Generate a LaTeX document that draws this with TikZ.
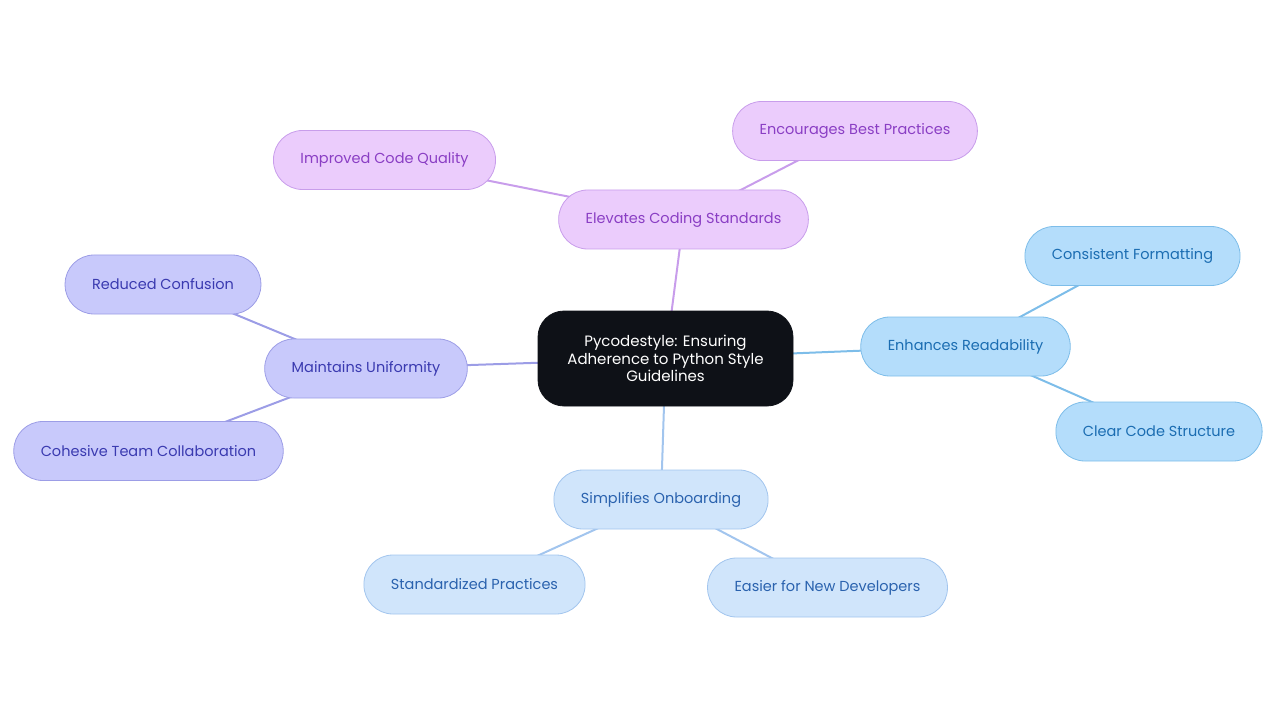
\documentclass[tikz,border=0pt]{standalone}
\usepackage{fontspec}
\setmainfont{Poppins}
\usepackage{tikz}
\usetikzlibrary{positioning, backgrounds}
\usepackage{xcolor}

\definecolor{rootfill}{HTML}{0E1117}
\definecolor{purfill}{HTML}{EBCCFC}
\definecolor{purline}{HTML}{C89DEB}
\definecolor{purtext}{HTML}{8A3EC4}
\definecolor{indfill}{HTML}{C8C9FB}
\definecolor{indline}{HTML}{9C9DE6}
\definecolor{indtext}{HTML}{3A3AB0}
\definecolor{skyfill}{HTML}{B4DDFB}
\definecolor{skyline}{HTML}{7DBDE9}
\definecolor{skytext}{HTML}{1B6DB2}
\definecolor{palefill}{HTML}{D0E5FB}
\definecolor{paleline}{HTML}{A2C5EE}
\definecolor{paletext}{HTML}{2A62AE}

\begin{document}
\begin{tikzpicture}[
    x=1pt, y=-1pt,
    topic/.style={rectangle, draw, rounded corners=29pt, minimum height=59pt,
                  inner xsep=27pt, align=center, font=\fontsize{14.5}{17}\selectfont, line width=0.8pt},
    root/.style={topic, fill=rootfill, draw=rootfill, text=white, rounded corners=26pt,
                 minimum width=255pt, minimum height=95pt, inner xsep=10pt,
                 font=\fontsize{15}{17.5}\selectfont},
    purple/.style={topic, fill=purfill, draw=purline, text=purtext},
    indigo/.style={topic, fill=indfill, draw=indline, text=indtext},
    sky/.style={topic, fill=skyfill, draw=skyline, text=skytext},
    pale/.style={topic, fill=palefill, draw=paleline, text=paletext},
    link/.style={line width=2pt}
]
\useasboundingbox (0,0) rectangle (1280,722);

\node[root] (core) at (665.5,358.5) {Pycodestyle: Ensuring\\Adherence to Python Style\\Guidelines};

\node[purple] (elevate) at (683.5,219.5) {Elevates Coding Standards};
\node[purple] (quality) at (384.5,160) {Improved Code Quality};
\node[purple] (best) at (855,131) {Encourages Best Practices};

\node[indigo] (uniform) at (366,368.5) {Maintains Uniformity};
\node[indigo] (confusion) at (163,284.5) {Reduced Confusion};
\node[indigo] (team) at (148.5,451) {Cohesive Team Collaboration};

\node[sky] (readable) at (965.5,346.5) {Enhances Readability};
\node[sky] (format) at (1132.5,256) {Consistent Formatting};
\node[sky] (structure) at (1159,431.5) {Clear Code Structure};

\node[pale] (onboard) at (661,499.5) {Simplifies Onboarding};
\node[pale] (practices) at (474.5,584.5) {Standardized Practices};
\node[pale] (newdev) at (827.5,587.5) {Easier for New Developers};

\begin{scope}[on background layer]
\draw[link, purline] (core.center) -- (elevate.center);
\draw[link, purline] (elevate.center) -- (quality.center);
\draw[link, purline] (elevate.center) -- (best.center);
\draw[link, indline] (core.center) -- (uniform.center);
\draw[link, indline] (uniform.center) -- (confusion.center);
\draw[link, indline] (uniform.center) -- (team.center);
\draw[link, skyline] (core.center) -- (readable.center);
\draw[link, skyline] (readable.center) -- (format.center);
\draw[link, skyline] (readable.center) -- (structure.center);
\draw[link, paleline] (core.center) -- (onboard.center);
\draw[link, paleline] (onboard.center) -- (practices.center);
\draw[link, paleline] (onboard.center) -- (newdev.center);
\end{scope}
\end{tikzpicture}
\end{document}
